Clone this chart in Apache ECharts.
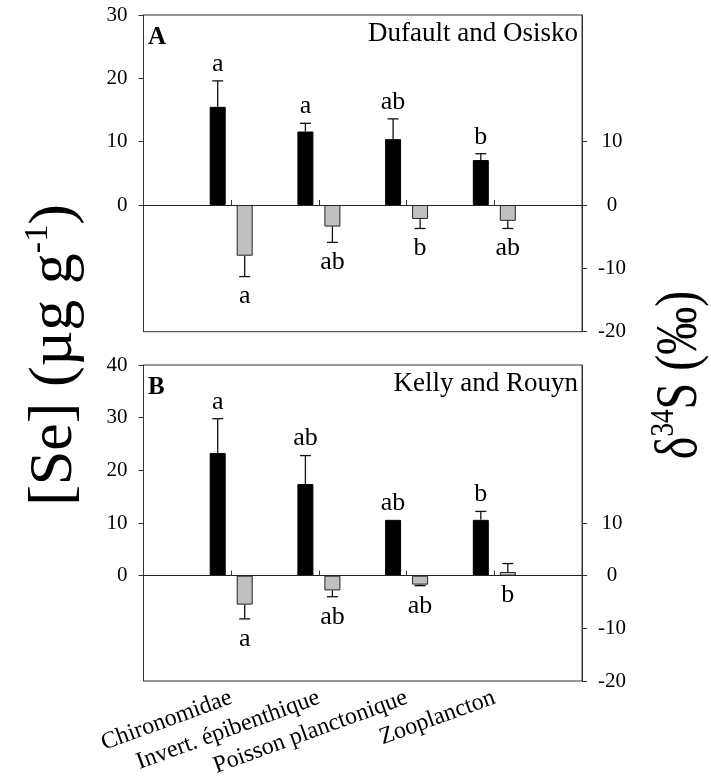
<!DOCTYPE html>
<html>
<head>
<meta charset="utf-8">
<script src="https://cdn.jsdelivr.net/npm/echarts@6/dist/echarts.min.js"></script>
<style>
  html, body { margin: 0; padding: 0; background: #fff; }
  #c { width: 711px; height: 784px; }
</style>
</head>
<body>
<div id="c"></div>
<script>
// Taxa along the x axis
const categories = ['Chironomidae', 'Invert. épibenthique', 'Poisson planctonique', 'Zooplancton'];

// Panel A – Dufault and Osisko
const seA = [15.5, 11.6, 10.4, 7.1];
const seErrA = [4.1, 1.3, 3.2, 1.0];
const seLettersA = ['a', 'a', 'ab', 'b'];
const sA = [-8.0, -3.4, -2.2, -2.5];
const sErrA = [3.3, 2.5, 1.5, 1.2];
const sLettersA = ['a', 'ab', 'b', 'ab'];

// Panel B – Kelly and Rouyn
const seB = [23.3, 17.4, 10.6, 10.6];
const seErrB = [6.5, 5.4, 0, 1.6];
const seLettersB = ['a', 'ab', 'ab', 'b'];
const sB = [-5.5, -2.8, -1.7, 0.7];
const sErrB = [2.7, 1.2, 0.2, 1.6];
const sLettersB = ['a', 'ab', 'ab', 'b'];

// Tick labels
const seTicksA = [0, 10, 20, 30];
const seTicksB = [0, 10, 20, 30, 40];
const sTicks = [-20, -10, 0, 10];

const SERIF = '"Liberation Serif", "Times New Roman", serif';
const AXIS = '#333';
const BAR_W = 16;
const BAR_GAP = 11;
const OFFSET = (BAR_W + BAR_GAP) / 2;

const chart = echarts.init(document.getElementById('c'), null, { renderer: 'canvas' });

// x positions 1..4 hold the taxa; 0 and 5 are empty margins
const xData = [''].concat(categories, ['']);

function pairs(vals, errs) {
  return vals.map((v, i) => [i + 1, v, errs[i], i]);
}

// error whisker (one-sided, away from zero) plus the significance letter
function whiskerRenderer(letters, side, above) {
  return function (params, api) {
    const idx = api.value(0);
    const v = api.value(1);
    const e = api.value(2);
    const i = api.value(3);
    const end = v + (v >= 0 ? 1 : -1) * e;
    const pv = api.coord([idx, v]);
    const x = pv[0] + side * OFFSET;
    const yV = pv[1];
    const yE = api.coord([idx, end])[1];
    const y0 = api.coord([idx, 0])[1];
    const children = [];
    if (e > 0) {
      children.push({ type: 'line', shape: { x1: x, y1: yV, x2: x, y2: yE },
        style: { stroke: '#111', lineWidth: 1.3 } });
      children.push({ type: 'line', shape: { x1: x - 5.5, y1: yE, x2: x + 5.5, y2: yE },
        style: { stroke: '#111', lineWidth: 1.3 } });
    }
    let ty, va;
    if (above) { ty = Math.min(yV, yE, y0) - 4; va = 'bottom'; }
    else { ty = Math.max(yV, yE, y0) + 7; va = 'top'; }
    children.push({ type: 'text', x: x, y: ty,
      style: { text: letters[i], fontSize: 26, fontFamily: SERIF, fill: '#000',
        align: 'center', verticalAlign: va } });
    return { type: 'group', children: children };
  };
}

const panels = [
  { top: 15, height: 316.7, min: -20, max: 30, seTicks: seTicksA, se: seA, seErr: seErrA, seLet: seLettersA,
    s: sA, sErr: sErrA, sLet: sLettersA, showCats: false, tag: 'A', site: 'Dufault and Osisko' },
  { top: 365, height: 316, min: -20, max: 40, seTicks: seTicksB, se: seB, seErr: seErrB, seLet: seLettersB,
    s: sB, sErr: sErrB, sLet: sLettersB, showCats: true, tag: 'B', site: 'Kelly and Rouyn' }
];

const grid = [], xAxis = [], yAxis = [], series = [], graphic = [];

panels.forEach((p, g) => {
  grid.push({ left: 143.5, top: p.top, width: 438.5, height: p.height,
    show: true, borderColor: AXIS, borderWidth: 1, backgroundColor: 'transparent' });

  xAxis.push({
    type: 'category', gridIndex: g, data: xData, boundaryGap: false, position: 'bottom',
    axisLine: { show: true, lineStyle: { color: AXIS, width: 1 } },
    axisTick: { show: true, inside: true, length: 5, interval: (i) => i >= 1 && i <= 4,
      lineStyle: { color: AXIS } },
    axisLabel: { show: p.showCats, interval: 0, rotate: 20, margin: 16, fontSize: 24,
      fontFamily: SERIF, color: '#000' },
    splitLine: { show: false }
  });

  yAxis.push({
    type: 'value', gridIndex: g, position: 'left', min: p.min, max: p.max, interval: 10,
    axisLine: { show: true, lineStyle: { color: AXIS, width: 1 } },
    axisTick: { show: true, length: 5, customValues: p.seTicks, lineStyle: { color: AXIS } },
    axisLabel: { customValues: p.seTicks, margin: 16, fontSize: 21, fontFamily: SERIF, color: '#000' },
    splitLine: { show: false }
  });
  yAxis.push({
    type: 'value', gridIndex: g, position: 'right', min: p.min, max: p.max, interval: 10,
    axisLine: { show: true, lineStyle: { color: AXIS, width: 1 } },
    axisTick: { show: true, length: 5, customValues: sTicks, lineStyle: { color: AXIS } },
    axisLabel: { customValues: sTicks, margin: 30, align: 'center', fontSize: 21,
      fontFamily: SERIF, color: '#000' },
    splitLine: { show: false }
  });

  const yl = g * 2, yr = g * 2 + 1;

  series.push({
    type: 'bar', xAxisIndex: g, yAxisIndex: yl, data: p.se.map((v, i) => [i + 1, v]),
    barWidth: BAR_W, barGap: (BAR_GAP / BAR_W * 100) + '%',
    itemStyle: { color: '#000', borderColor: '#000', borderWidth: 1 },
    silent: true,
    markLine: { silent: true, symbol: 'none', label: { show: false },
      lineStyle: { color: '#222', width: 1, type: 'solid' }, data: [{ yAxis: 0 }] }
  });
  series.push({
    type: 'bar', xAxisIndex: g, yAxisIndex: yr, data: p.s.map((v, i) => [i + 1, v]),
    barWidth: BAR_W,
    itemStyle: { color: '#c0c0c0', borderColor: '#222', borderWidth: 1 },
    silent: true
  });
  series.push({
    type: 'custom', xAxisIndex: g, yAxisIndex: yl, data: pairs(p.se, p.seErr),
    renderItem: whiskerRenderer(p.seLet, -1, true), clip: false, silent: true, z: 5
  });
  series.push({
    type: 'custom', xAxisIndex: g, yAxisIndex: yr, data: pairs(p.s, p.sErr),
    renderItem: whiskerRenderer(p.sLet, 1, false), clip: false, silent: true, z: 5
  });

  graphic.push({ type: 'text', left: 148, top: p.top + 10,
    style: { text: p.tag, fontSize: 25, fontWeight: 'bold', fontFamily: SERIF, fill: '#000' } });
  graphic.push({ type: 'text', right: 711 - 578, top: p.top + 5,
    style: { text: p.site, fontSize: 27, fontFamily: SERIF, fill: '#000' } });
});

// rotated axis title with superscript pieces, laid out from measured widths
function verticalTitle(cx, cy, segs, squeeze) {
  const ctx = document.createElement('canvas').getContext('2d');
  let total = 0;
  const widths = segs.map((s) => {
    ctx.font = s.size + 'px ' + SERIF;
    const w = ctx.measureText(s.text).width;
    total += w;
    return w;
  });
  let x = -total / 2;
  const children = segs.map((s, k) => {
    const el = { type: 'text', x: x, y: s.dy,
      style: { text: s.text, fontSize: s.size, fontFamily: SERIF, fill: '#000',
        align: 'left', verticalAlign: 'middle' } };
    x += widths[k];
    return el;
  });
  return { type: 'group', x: cx, y: cy, rotation: Math.PI / 2, scaleX: squeeze, children: children };
}

graphic.push(verticalTitle(55, 355, [
  { text: '[Se] (µg g', size: 62, dy: 0 },
  { text: '-1', size: 34, dy: -17 },
  { text: ')', size: 62, dy: 0 }
], 1));

graphic.push(verticalTitle(680, 375, [
  { text: 'δ', size: 60, dy: 0 },
  { text: '34', size: 34, dy: -16 },
  { text: 'S (‰)', size: 60, dy: 0 }
], 0.8));

chart.setOption({
  animation: false,
  backgroundColor: '#fff',
  grid: grid,
  xAxis: xAxis,
  yAxis: yAxis,
  series: series,
  graphic: graphic
});
</script>
</body>
</html>
